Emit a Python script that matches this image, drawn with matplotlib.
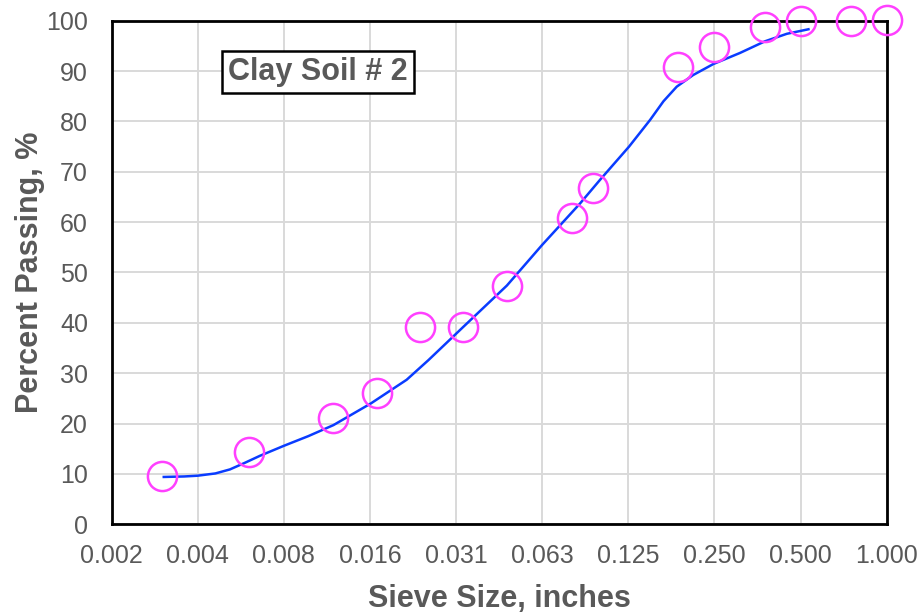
import matplotlib
matplotlib.use("Agg")
import matplotlib.pyplot as plt
from matplotlib.ticker import FixedLocator, NullLocator, FixedFormatter

plt.rcParams['font.family'] = ['Liberation Sans', 'DejaVu Sans']

# Measured data points (sieve size in inches, percent passing)
sieve_sizes = [1.0, 0.75, 0.5, 0.375, 0.25, 0.187, 0.0943, 0.0791, 0.0470,
               0.0331, 0.0234, 0.0165, 0.0116, 0.0059, 0.00293]
percent_passing = [100.2, 100.0, 99.9, 98.7, 94.8, 90.9, 66.7, 60.8, 47.4,
                   39.2, 39.2, 26.0, 21.2, 14.3, 9.6]

# Fitted gradation curve
curve_sizes = [0.00297, 0.0035, 0.0039, 0.0045, 0.00506, 0.0057, 0.00644,
               0.00782, 0.0095, 0.01164, 0.01573, 0.02098, 0.0250, 0.0331,
               0.0470, 0.0625, 0.0847, 0.0995, 0.1257, 0.1489, 0.1658,
               0.1845, 0.2104, 0.2478, 0.3071, 0.375, 0.4477, 0.5327]
curve_passing = [9.4, 9.5, 9.65, 10.1, 10.9, 12.2, 13.6, 15.6, 17.5, 19.7,
                 24.0, 28.7, 32.6, 39.2, 47.4, 55.5, 63.7, 68.4, 75.0, 80.3,
                 84.0, 86.9, 89.2, 91.4, 93.6, 95.9, 97.4, 98.3]

x_ticks = [2.0 ** k for k in range(-9, 1)]
x_tick_labels = ['0.002', '0.004', '0.008', '0.016', '0.031', '0.063',
                 '0.125', '0.250', '0.500', '1.000']
y_ticks = list(range(0, 101, 10))

gray = '#595959'

fig = plt.figure(figsize=(9.22, 6.14), dpi=100)
ax = fig.add_axes([111.7 / 922, (614 - 524.3) / 614, (886.7 - 111.7) / 922,
                   (524.3 - 20.7) / 614])

ax.set_xscale('log', base=2)
ax.set_xlim(2.0 ** -9, 1.0)
ax.set_ylim(0, 100)

ax.xaxis.set_major_locator(FixedLocator(x_ticks))
ax.xaxis.set_major_formatter(FixedFormatter(x_tick_labels))
ax.xaxis.set_minor_locator(NullLocator())
ax.set_yticks(y_ticks)

ax.grid(True, color='#d9d9d9', linewidth=1.4)
ax.set_axisbelow(True)

ax.plot(curve_sizes, curve_passing, color='#0a3cff', linewidth=1.8, zorder=3)
ax.plot(sieve_sizes, percent_passing, linestyle='none', marker='o',
        markersize=21, markerfacecolor='none', markeredgecolor='#ff40ff',
        markeredgewidth=1.8, zorder=4, clip_on=False)

for s in ax.spines.values():
    s.set_color('black')
    s.set_linewidth(2.0)

ax.tick_params(axis='x', length=0, labelsize=18, labelcolor=gray, pad=14)
ax.tick_params(axis='y', length=0, labelsize=18, labelcolor=gray, pad=17)

ax.set_xlabel('Sieve Size, inches', fontsize=22, fontweight='bold',
              color=gray, labelpad=12)
ax.set_ylabel('Percent Passing, %', fontsize=22, fontweight='bold',
              color=gray, labelpad=1)

ax.text(0.0103, 89.8, 'Clay Soil # 2', transform=ax.transData,
        fontsize=22, fontweight='bold', color=gray, ha='center', va='center',
        bbox=dict(boxstyle='square,pad=0.2', facecolor='white',
                  edgecolor='black', linewidth=1.8), zorder=5)

fig.savefig('out.png', dpi=100)
